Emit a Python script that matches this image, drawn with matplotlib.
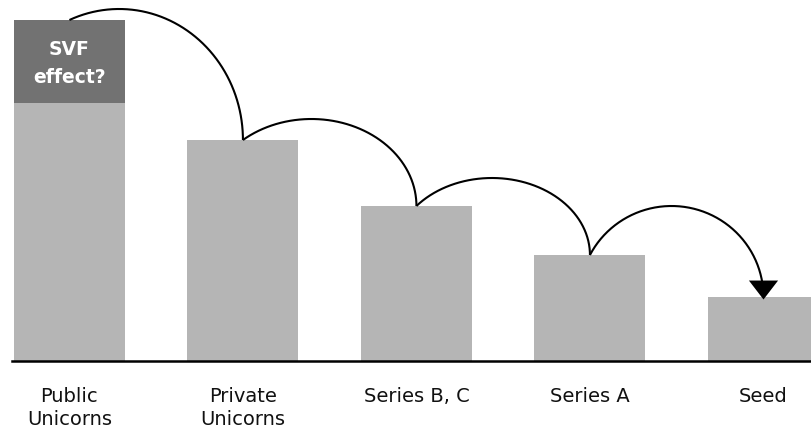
import numpy as np
import matplotlib
matplotlib.use("Agg")
import matplotlib.pyplot as plt

# ---- data ----
categories = ["Public\nUnicorns", "Private\nUnicorns", "Series B, C", "Series A", "Seed"]
base_values = [258, 221, 155, 106, 64]
svf_effect = [83, 0, 0, 0, 0]
svf_label = "SVF\neffect?"

# ---- style ----
LIGHT = "#b5b5b5"
DARK = "#727272"
BAR_W = 0.64
ARC_LIFT = [11, 21, 28, 49]   # how far each arc rises above its start

fig = plt.figure(figsize=(8.11, 4.31), dpi=100)
ax = fig.add_axes([12 / 811, 1 - 362 / 431, 799 / 811, 362 / 431])

x = np.arange(len(categories))
ax.bar(x, base_values, width=BAR_W, color=LIGHT, zorder=1)
ax.bar(x, svf_effect, width=BAR_W, bottom=base_values, color=DARK, zorder=1)

totals = np.array(base_values) + np.array(svf_effect)

ax.text(x[0], base_values[0] + svf_effect[0] / 2 - 1, svf_label, ha="center", va="center",
        color="white", fontsize=13.5, fontweight="bold", linespacing=1.65, zorder=3)

# elliptical arcs connecting consecutive bar tops
for i in range(len(x) - 1):
    x0, y0 = x[i], totals[i]
    x3, y3 = x[i + 1], totals[i + 1]
    peak = y0 + ARC_LIFT[i]
    b = peak - y3
    r = (y0 - y3) / b
    u = np.sqrt(1 - r ** 2)
    cx = (x0 + u * x3) / (1 + u)
    a = x3 - cx
    th0 = np.pi - np.arcsin(r)
    th = np.linspace(th0, 0, 200)
    ax.plot(cx + a * np.cos(th), y3 + b * np.sin(th), color="black", lw=1.5,
            solid_capstyle="butt", zorder=4, clip_on=False)

# arrow head at the last bar
head = [(-1, 1.3), (1, 1.3), (0, 0), (-1, 1.3)]
ax.plot([x[-1]], [totals[-1] - 2], marker=head, markersize=27.3, color="black",
        markeredgewidth=0, zorder=5, clip_on=False)

ax.set_xlim(-0.331, 4.274)
ax.set_ylim(0, 362)
for s in ["left", "right", "top"]:
    ax.spines[s].set_visible(False)
ax.spines["bottom"].set_linewidth(1.8)
ax.spines["bottom"].set_color("black")
ax.spines["bottom"].set_zorder(2)
ax.set_yticks([])
ax.set_xticks(x)
ax.set_xticklabels(categories, fontsize=14, color="#111111")
ax.tick_params(axis="x", length=0, pad=18)
for t in ax.get_xticklabels():
    t.set_linespacing(1.3)

fig.savefig("out.png", dpi=100)
